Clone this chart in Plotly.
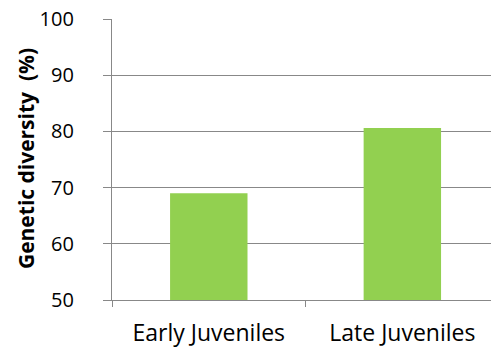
import plotly.graph_objects as go

# Genetic diversity by juvenile stage
stages = ["Early Juveniles", "Late Juveniles"]
diversity = [69.0, 80.6]
y_ticks = [50, 60, 70, 80, 90, 100]

grey = "#888888"
font_family = "Open Sans, Lato, sans-serif"

fig = go.Figure(
    go.Bar(
        x=stages,
        y=diversity,
        marker=dict(color="#92D050", line=dict(width=0)),
        width=0.4,
    )
)

fig.update_layout(
    width=491,
    height=348,
    margin=dict(l=112, r=0, t=19, b=48),
    paper_bgcolor="white",
    plot_bgcolor="white",
    showlegend=False,
    font=dict(family=font_family, size=20, color="black"),
)

fig.update_xaxes(
    type="category",
    range=[-0.5, 1.458],
    automargin=False,
    showgrid=False,
    showline=True,
    linecolor=grey,
    linewidth=1.3,
    ticks="outside",
    tickson="boundaries",
    ticklen=6,
    tickcolor=grey,
    tickwidth=1.3,
    tickfont=dict(size=23),
    ticklabelstandoff=12,
)

fig.update_yaxes(
    range=[50, 100],
    tickvals=y_ticks,
    automargin=False,
    showgrid=True,
    gridcolor=grey,
    gridwidth=1.3,
    showline=True,
    linecolor=grey,
    linewidth=1.3,
    ticks="outside",
    ticklen=8,
    tickcolor=grey,
    tickwidth=1.3,
    tickfont=dict(size=20),
    ticklabelstandoff=25,
    zeroline=False,
)

# y-axis title, placed as a rotated annotation left of the tick labels
fig.add_annotation(
    text="<b>Genetic diversity\u00a0 (%)</b>",
    xref="paper",
    yref="paper",
    x=-0.227,
    xanchor="center",
    y=0.505,
    yanchor="middle",
    textangle=-90,
    showarrow=False,
    font=dict(size=21, family=font_family, color="black"),
)

fig.write_html("out.html")
